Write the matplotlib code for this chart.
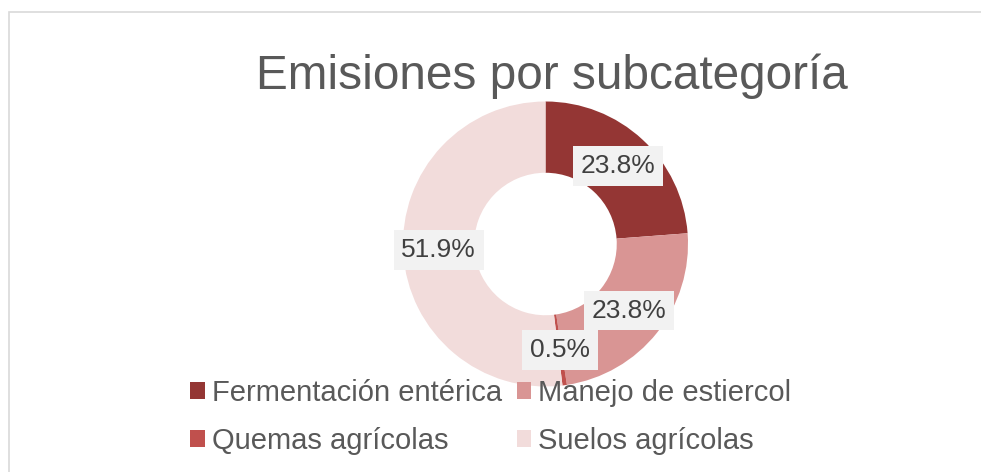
import matplotlib
matplotlib.use('Agg')
import matplotlib.pyplot as plt
from matplotlib.patches import Rectangle

plt.rcParams['font.family'] = ['Liberation Sans', 'DejaVu Sans']

# data
categories = ['Fermentación entérica', 'Manejo de estiercol', 'Quemas agrícolas', 'Suelos agrícolas']
values = [23.8, 23.8, 0.5, 51.9]
colors = ['#943634', '#D99594', '#C0504D', '#F2DCDB']
title = 'Emisiones por subcategoría'

W, H = 981, 472
fig = plt.figure(figsize=(W / 100, H / 100), dpi=100)

# light border of the chart area
fig.patches.append(Rectangle((8.5 / W, -0.1), 1.2, 1 - 11.5 / H + 0.1,
                             transform=fig.transFigure, fill=False,
                             edgecolor='#D9D9D9', linewidth=1.2))

cx, cy, r = 545.5, 244, 142.5
ax = fig.add_axes([(cx - r) / W, (H - cy - r) / H, 2 * r / W, 2 * r / H])

wedges, texts, autotexts = ax.pie(values, colors=colors, startangle=90, counterclock=False,
                                  radius=1, autopct='%1.1f%%', pctdistance=0.75,
                                  wedgeprops=dict(width=0.5, linewidth=0),
                                  textprops=dict(fontsize=19, color='#404040'))
for t in autotexts:
    t.set_bbox(dict(boxstyle='square,pad=0.3', facecolor='#F2F2F2', edgecolor='none'))
ax.set_xlim(-1, 1)
ax.set_ylim(-1, 1)
ax.axis('off')

fig.text(552 / W, 1 - 89 / H, title, ha='center', va='baseline',
         fontsize=34.4, color='#595959')

order = [0, 2, 1, 3]
leg = fig.legend([wedges[i] for i in order], [categories[i] for i in order],
                 ncol=2, loc='upper left', bbox_to_anchor=(190 / W, 1 - 379 / H),
                 bbox_transform=fig.transFigure, frameon=False, fontsize=21,
                 handlelength=0.5, handleheight=0.5, handletextpad=0.25,
                 columnspacing=0.5, labelspacing=0.69, borderpad=0, borderaxespad=0)
for t in leg.get_texts():
    t.set_color('#595959')

fig.savefig('out.png', dpi=100)
